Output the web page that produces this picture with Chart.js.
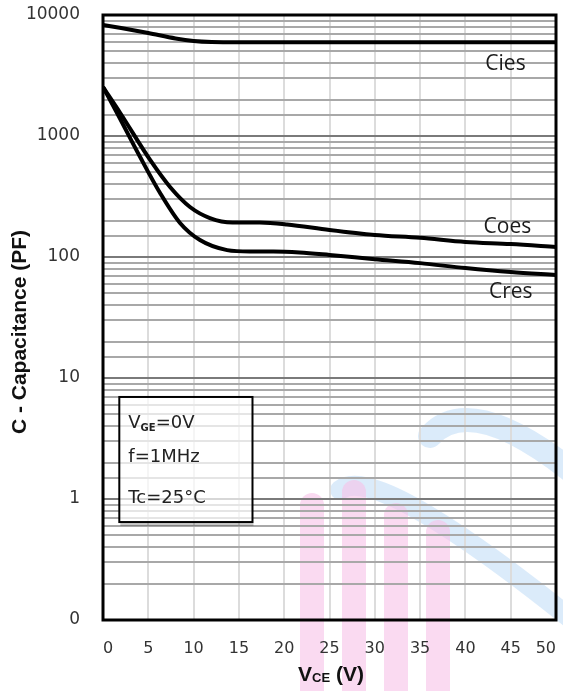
<!DOCTYPE html>
<html>
<head>
<meta charset="utf-8">
<script src="https://cdn.jsdelivr.net/npm/chart.js@4.4.0/dist/chart.umd.min.js"></script>
<style>
html, body { margin: 0; padding: 0; background: #fff; }
</style>
</head>
<body>
<canvas id="chart" width="563" height="691"></canvas>
<script>
// values (VCE in volts, capacitance in pF)
var ciesV = [0, 2, 5, 8, 10, 12, 15, 20, 30, 40, 50];
var ciesC = [8270, 7800, 7100, 6400, 6100, 5980, 5950, 5950, 5950, 5950, 5950];

var coesV = [0, 1.9, 5.2, 7.4, 9.6, 11.8, 14.3, 17.3, 20.3, 25, 30, 35, 40, 45, 50];
var coesC = [2540, 1550, 634, 379, 259, 210, 193, 193, 186, 167, 152, 144, 133, 128, 121];

var cresV = [0, 1.55, 4.1, 6.3, 8.5, 10.7, 13.7, 16.2, 18.8, 21.7, 25, 30, 35, 40, 45, 50];
var cresC = [2540, 1550, 670, 338, 191, 138, 114, 111, 111, 109, 104, 96, 89, 81, 75, 71];

var seriesNames = ['Cies', 'Coes', 'Cres'];
var xMin = 0, xMax = 50, xStep = 5;
var yMin = 0.1, yMax = 10000;
var noteLines = ['=0V', 'f=1MHz', 'Tc=25\u00B0C'];

function toPoints(xs, ys) {
    var pts = [];
    for (var i = 0; i < xs.length; i++) pts.push({ x: xs[i], y: ys[i] });
    return pts;
}

function curve(xs, ys) {
    return {
        data: toPoints(xs, ys),
        borderColor: '#000',
        borderWidth: 4,
        pointRadius: 0,
        cubicInterpolationMode: 'monotone',
        fill: false
    };
}

function isDecade(v) {
    var e = Math.log10(v);
    return Math.abs(e - Math.round(e)) < 1e-9;
}

// background, watermark, frame, annotations
var decor = {
    id: 'decor',
    beforeDraw: function (c) {
        var ctx = c.ctx;
        ctx.save();
        ctx.fillStyle = '#fff';
        ctx.fillRect(0, 0, c.width, c.height);

        // faint logo watermark
        ctx.strokeStyle = 'rgba(190,218,245,0.55)';
        ctx.lineCap = 'round';
        ctx.lineWidth = 20;
        ctx.beginPath();
        ctx.moveTo(340, 490);
        ctx.quadraticCurveTo(375, 462, 570, 618);
        ctx.stroke();
        ctx.lineWidth = 24;
        ctx.beginPath();
        ctx.moveTo(430, 436);
        ctx.quadraticCurveTo(470, 392, 570, 470);
        ctx.stroke();

        ctx.fillStyle = 'rgba(246,194,232,0.6)';
        var bars = [[300, 493], [342, 480], [384, 503], [426, 520]];
        bars.forEach(function (b) {
            ctx.beginPath();
            ctx.moveTo(b[0], 700);
            ctx.lineTo(b[0], b[1] + 12);
            ctx.arc(b[0] + 12, b[1] + 12, 12, Math.PI, 0);
            ctx.lineTo(b[0] + 24, 700);
            ctx.closePath();
            ctx.fill();
        });
        ctx.restore();
    },
    afterDraw: function (c) {
        var ctx = c.ctx, a = c.chartArea;
        var xs = c.scales.x, ys = c.scales.y;
        ctx.save();

        // plot frame
        ctx.strokeStyle = '#000';
        ctx.lineWidth = 3;
        ctx.strokeRect(a.left, a.top, a.right - a.left, a.bottom - a.top);

        // condition box
        var bx = xs.getPixelForValue(1.8), bx2 = xs.getPixelForValue(16.5);
        var by = ys.getPixelForValue(6.97), by2 = ys.getPixelForValue(0.645);
        ctx.fillStyle = 'rgba(255,255,255,0.7)';
        ctx.fillRect(bx, by, bx2 - bx, by2 - by);
        ctx.fillStyle = 'rgba(0,0,0,0.22)';
        ctx.fillRect(bx + 1, by2 + 1, bx2 - bx, 3);
        ctx.lineWidth = 2;
        ctx.strokeRect(bx, by, bx2 - bx, by2 - by);

        ctx.fillStyle = '#222';
        ctx.textBaseline = 'alphabetic';
        ctx.textAlign = 'left';
        var tx = bx + 9;
        ctx.font = '18px "DejaVu Sans"';
        ctx.fillText('V', tx, by + 31);
        var vw = ctx.measureText('V').width;
        ctx.font = 'bold 10px "DejaVu Sans"';
        ctx.fillText('GE', tx + vw, by + 34);
        var gw = ctx.measureText('GE').width;
        ctx.font = '18px "DejaVu Sans"';
        ctx.fillText(noteLines[0], tx + vw + gw, by + 31);
        ctx.fillText(noteLines[1], tx, by + 65);
        ctx.fillText(noteLines[2], tx, by + 106);

        // curve names
        ctx.font = '21px "Open Sans"';
        ctx.fillStyle = '#1a1a1a';
        ctx.fillText(seriesNames[0], xs.getPixelForValue(42.2), ys.getPixelForValue(3510));
        ctx.fillText(seriesNames[1], xs.getPixelForValue(42.0), ys.getPixelForValue(158));
        ctx.fillText(seriesNames[2], xs.getPixelForValue(42.6), ys.getPixelForValue(45.8));

        // axis titles
        ctx.fillStyle = '#111';
        ctx.font = 'bold 21px "Liberation Sans"';
        ctx.textAlign = 'center';
        ctx.save();
        ctx.translate(26, 332);
        ctx.rotate(-Math.PI / 2);
        ctx.fillText('C - Capacitance (PF)', 0, 0);
        ctx.restore();

        ctx.textAlign = 'left';
        ctx.font = 'bold 21px "Liberation Sans"';
        var w1 = ctx.measureText('V').width;
        ctx.font = 'bold 13px "Liberation Sans"';
        var w2 = ctx.measureText('CE').width;
        ctx.font = 'bold 21px "Liberation Sans"';
        var w3 = ctx.measureText(' (V)').width;
        var sx = 331 - (w1 + w2 + w3) / 2;
        ctx.fillText('V', sx, 681);
        ctx.font = 'bold 13px "Liberation Sans"';
        ctx.fillText('CE', sx + w1, 682);
        ctx.font = 'bold 21px "Liberation Sans"';
        ctx.fillText(' (V)', sx + w1 + w2, 681);
        ctx.restore();
    }
};

var chart = new Chart(document.getElementById('chart'), {
    type: 'line',
    data: {
        datasets: [curve(ciesV, ciesC), curve(coesV, coesC), curve(cresV, cresC)]
    },
    options: {
        responsive: false,
        animation: false,
        layout: { padding: { top: 15, right: 7, left: 0, bottom: 0 } },
        plugins: { legend: { display: false }, tooltip: { enabled: false } },
        scales: {
            x: {
                type: 'linear',
                min: xMin,
                max: xMax,
                border: { display: false },
                grid: { color: '#dcdcdc', lineWidth: 2, drawTicks: false },
                ticks: {
                    stepSize: xStep,
                    padding: 19,
                    align: 'inner',
                    color: '#333',
                    font: { family: 'DejaVu Sans', size: 16 }
                },
                afterFit: function (s) {
                    s.height = 71;
                    s.paddingLeft = 0;
                    s.paddingRight = 0;
                }
            },
            y: {
                type: 'logarithmic',
                min: yMin,
                max: yMax,
                border: { display: false },
                grid: {
                    drawTicks: false,
                    lineWidth: 2,
                    color: function (ctx) {
                        return ctx.tick && isDecade(ctx.tick.value) ? '#7a7a7a' : '#a8a8a8';
                    }
                },
                ticks: {
                    autoSkip: false,
                    padding: 23,
                    color: '#333',
                    font: { family: 'DejaVu Sans', size: 17 },
                    callback: function (v) {
                        if (!isDecade(v)) return '';
                        return v < 1 ? '0' : String(Math.round(v));
                    }
                },
                afterFit: function (s) {
                    s.width = 103;
                    s.paddingTop = 0;
                    s.paddingBottom = 0;
                }
            }
        }
    },
    plugins: [decor]
});
</script>
</body>
</html>
